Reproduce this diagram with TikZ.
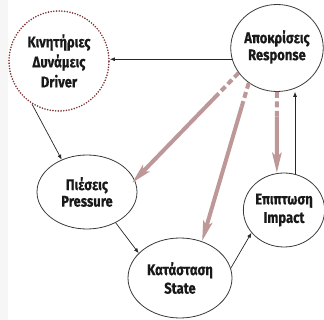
\documentclass[tikz,border=0pt]{standalone}
\usepackage{fontspec}
\setmainfont{Fira Sans}[FakeStretch=0.84, BoldFeatures={FakeBold=0.5}]
\usetikzlibrary{shapes.geometric,arrows.meta,calc}
\definecolor{dotred}{HTML}{7E3636}
\definecolor{rose}{HTML}{BE9898}
\definecolor{edge}{HTML}{3A3A3A}
\tikzset{
  ell/.style={ellipse, draw=edge, line width=0.8pt, fill=white, inner sep=0pt, align=center,
    font=\bfseries\fontsize{15.5}{18.5}\selectfont, text=black!90},
  thin/.style={draw=black!85, line width=0.7pt, -{Latex[length=5pt,width=4pt]}},
  rosedash/.style={draw=rose, line width=4pt, dash pattern=on 6pt off 3.5pt},
  rosearrow/.style={draw=rose, line width=4pt, -{Stealth[length=20pt,width=9pt,inset=4pt]}}
}
\begin{document}
\begin{tikzpicture}[x=1pt,y=-1pt]
\useasboundingbox (0,0) rectangle (324,320);
\fill[gray!7] (0,0) rectangle (8,320);
\node[ell, draw=dotred, line width=1.8pt, dash pattern=on 0pt off 2.7pt, line cap=round,
  minimum width=100pt, minimum height=100pt, font=\bfseries\fontsize{15.5}{20}\selectfont] (drv) at (59,61) {Κινητήριες\\Δυνάμεις\\Driver};
\node[ell, minimum width=90pt, minimum height=87pt] (resp) at (277,48)
  {\raisebox{5pt}{\begin{tabular}{@{}c@{}}Αποκρίσεις\\[-1.5pt]Response\end{tabular}}};
\node[ell, minimum width=100pt, minimum height=74pt, font=\bfseries\fontsize{15.5}{16.5}\selectfont] (pres) at (87,192) {Πιέσεις\\Pressure};
\node[ell, minimum width=104pt, minimum height=80pt] (stat) at (180,278) {Κατάσταση\\State};
\node[ell, minimum width=78pt, minimum height=74pt] (imp) at (284,210) {Επιπτωση\\Impact};
% thin connectors
\draw[thin] (resp.194) -- (resp.194 -| drv.east);
\draw[thin] (drv.238) -- (pres.128);
\draw[thin] (pres.313) -- (stat.149);
\draw[thin] (stat.11) -- (imp.215);
\draw[thin] (imp.73) -- (imp.73 |- resp.south);
% thick rose connectors
\coordinate (a1) at (resp.213);
\coordinate (b1) at (pres.14);
\coordinate (m1) at ($(a1)!0.2!(b1)$);
\draw[rosedash] (a1) -- (m1);
\draw[rosearrow, shorten >=-4pt] (m1) -- (b1);
\coordinate (a2) at (resp.231);
\coordinate (b2) at (stat.59);
\coordinate (m2) at ($(a2)!0.15!(b2)$);
\draw[rosedash] (a2) -- (m2);
\draw[rosearrow] (m2) -- (b2);
\coordinate (a3) at (resp.270);
\coordinate (b3) at (imp.101);
\coordinate (m3) at ($(a3)!0.3!(b3)$);
\draw[rosedash] (a3) -- (m3);
\draw[rosearrow] (m3) -- (b3);
\end{tikzpicture}
\end{document}
